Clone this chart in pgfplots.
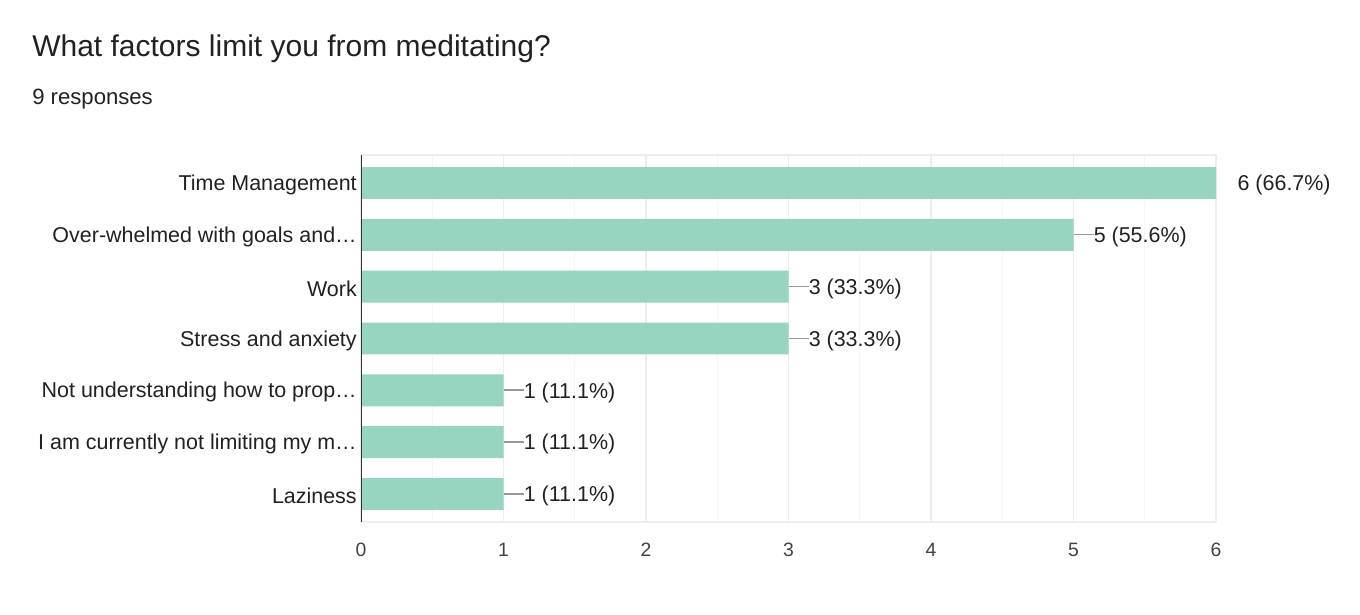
\documentclass[border=0pt]{standalone}
\usepackage{fontspec}
\setmainfont{Liberation Sans}
\usepackage{pgfplots}
\pgfplotsset{compat=1.18}
\definecolor{barcol}{HTML}{97D5C0}
\definecolor{txt}{HTML}{212121}
\definecolor{leader}{HTML}{999999}
\definecolor{gridmaj}{HTML}{EDEDED}
\definecolor{gridmin}{HTML}{F5F5F5}
\definecolor{axleft}{HTML}{333333}
\newcommand{\lh}{{\color{leader}\rule[5.4pt]{15pt}{1.1pt}}}
\newcommand{\nolh}{\hspace{15pt}}

\begin{document}
\begin{tikzpicture}
\useasboundingbox (0pt,0pt) rectangle (1020pt,460.5pt);
\node[anchor=base west, inner sep=0pt, font=\fontsize{22.5}{27}\selectfont, text=txt] at (24pt,417.75pt) {What factors limit you from meditating?};
\node[anchor=base west, inner sep=0pt, font=\fontsize{16.6}{20}\selectfont, text=txt] at (24pt,381.75pt) {9 responses};
\begin{axis}[
    at={(270.75pt,69pt)}, anchor=south west,
    scale only axis,
    width=641.25pt, height=275.25pt,
    xmin=0, xmax=6,
    ymin=-0.54, ymax=6.54,
    xbar, bar width=0.615,
    xtick={0,1,...,6},
    minor x tick num=1,
    xmajorgrids, xminorgrids,
    major grid style={gridmaj, line width=0.8pt},
    minor grid style={gridmin, line width=0.8pt},
    ytick={0,1,...,6},
    yticklabels={Laziness, I am currently not limiting my m…, Not understanding how to prop…, Stress and anxiety, Work, Over-whelmed with goals and…, Time Management},
    major tick length=0pt, minor tick length=0pt,
    axis line style={gridmaj, line width=0.8pt},
    /pgf/number format/assume math mode=true,
    tick label style={text=txt},
    yticklabel style={font=\fontsize{16.1}{19}\selectfont, inner sep=0pt, xshift=-3pt, yshift=-1.5pt},
    xticklabel style={font=\fontsize{14.5}{17}\selectfont, text=txt!85, inner sep=0pt, yshift=-15.5pt},
    point meta=explicit symbolic,
    nodes near coords,
    nodes near coords style={anchor=base west, inner sep=0pt, yshift=-5.8pt, font=\fontsize{16.1}{19}\selectfont, text=txt},
]
\addplot[fill=barcol, draw=none] coordinates {
    (6,6) [\nolh\hspace{1pt}6 (66.7\%)]
    (5,5) [\lh 5 (55.6\%)]
    (3,4) [\lh 3 (33.3\%)]
    (3,3) [\lh 3 (33.3\%)]
    (1,2) [\lh 1 (11.1\%)]
    (1,1) [\lh 1 (11.1\%)]
    (1,0) [\lh 1 (11.1\%)]
};
\draw[axleft, line width=1.5pt] (rel axis cs:0,0) -- (rel axis cs:0,1);
\end{axis}
\end{tikzpicture}
\end{document}
